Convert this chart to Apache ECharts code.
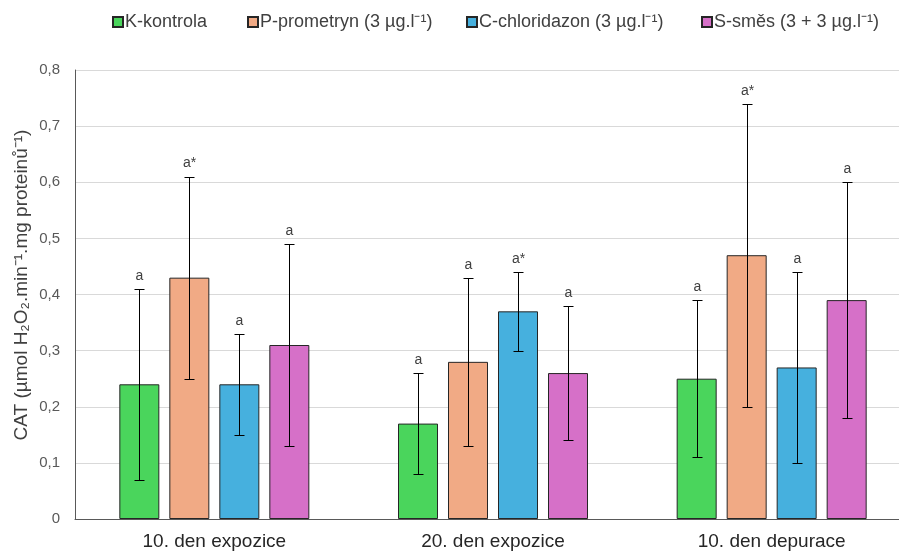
<!DOCTYPE html>
<html>
<head>
<meta charset="utf-8">
<script src="https://cdn.jsdelivr.net/npm/echarts@6/dist/echarts.min.js"></script>
<style>html,body{margin:0;padding:0;background:#fff;overflow:hidden;}#c{width:911px;height:551px;}</style>
</head>
<body>
<div id="c"></div>
<script>
const categories = ['10. den expozice', '20. den expozice', '10. den depurace'];
const seriesNames = ['K-kontrola', 'P-prometryn (3 µg.l⁻¹)', 'C-chloridazon (3 µg.l⁻¹)', 'S-směs (3 + 3 µg.l⁻¹)'];
const kMeans = [0.24, 0.17, 0.25];
const pMeans = [0.43, 0.28, 0.47];
const cMeans = [0.24, 0.37, 0.27];
const sMeans = [0.31, 0.26, 0.39];
const kErr = [0.17, 0.09, 0.14];
const pErr = [0.18, 0.15, 0.27];
const cErr = [0.09, 0.07, 0.17];
const sErr = [0.18, 0.12, 0.21];
const kSig = ['a', 'a', 'a'];
const pSig = ['a*', 'a', 'a*'];
const cSig = ['a', 'a*', 'a'];
const sSig = ['a', 'a', 'a'];
const yTicks = [0, 0.1, 0.2, 0.3, 0.4, 0.5, 0.6, 0.7, 0.8];
const yTitle = 'CAT (µmol H₂O₂.min⁻¹.mg proteinů⁻¹)';
const colors = ['#4ad55c', '#f1aa85', '#46b0de', '#d670c8'];

const means = [kMeans, pMeans, cMeans, sMeans];
const errs = [kErr, pErr, cErr, sErr];
const sigs = [kSig, pSig, cSig, sSig];

const FONT = '"Liberation Sans", Arial, sans-serif';
const BAR_W = 40, GAP = 10;
const n = means.length;
const offsets = means.map((_, i) => (i - (n - 1) / 2) * (BAR_W + GAP));
const legendLeft = [112, 247, 466, 701];

const series = [];
means.forEach((m, i) => {
  series.push({
    name: seriesNames[i],
    type: 'bar',
    data: m,
    barWidth: BAR_W,
    barGap: (GAP / BAR_W * 100) + '%',
    itemStyle: { color: colors[i], borderColor: '#262626', borderWidth: 1 }
  });
});
means.forEach((m, i) => {
  series.push({
    type: 'custom',
    name: 'err' + i,
    z: 10,
    silent: true,
    data: m.map((v, j) => [j, v - errs[i][j], v + errs[i][j]]),
    renderItem: function (params, api) {
      const lo = api.coord([api.value(0), api.value(1)]);
      const hi = api.coord([api.value(0), api.value(2)]);
      const x = Math.round(lo[0] + offsets[i]) + 0.5;
      const cw = 5;
      const st = { stroke: '#000', lineWidth: 1 };
      const yh = Math.round(hi[1]) + 0.5, yl = Math.round(lo[1]) + 0.5;
      return {
        type: 'group',
        children: [
          { type: 'line', shape: { x1: x, y1: yl, x2: x, y2: yh }, style: st },
          { type: 'line', shape: { x1: x - cw, y1: yh, x2: x + cw, y2: yh }, style: st },
          { type: 'line', shape: { x1: x - cw, y1: yl, x2: x + cw, y2: yl }, style: st },
          { type: 'text', style: { text: sigs[i][params.dataIndex], x: x, y: hi[1] - 6, align: 'center', verticalAlign: 'bottom', fill: '#404040', font: '14px ' + FONT } }
        ]
      };
    }
  });
});

const legends = seriesNames.map((name, i) => ({
  data: [name],
  top: 13,
  left: legendLeft[i],
  padding: 0,
  icon: 'rect',
  itemWidth: 10,
  itemHeight: 10,
  textStyle: { fontSize: 18, color: '#404040', fontFamily: FONT, padding: [0, 0, 0, -3] }
}));

const chart = echarts.init(document.getElementById('c'), null, { renderer: 'canvas' });
chart.setOption({
  animation: false,
  textStyle: { fontFamily: FONT },
  color: colors,
  legend: legends,
  graphic: [{
    type: 'text',
    x: 22, y: 285,
    rotation: Math.PI / 2,
    style: { text: yTitle, font: '19px ' + FONT, fill: '#404040', align: 'center', verticalAlign: 'middle' }
  }],
  grid: { left: 75, top: 70, bottom: 32, right: 0, containLabel: false },
  xAxis: {
    type: 'category',
    data: categories,
    axisTick: { show: false },
    axisLine: { lineStyle: { color: '#595959', width: 1 } },
    axisLabel: { fontSize: 19, color: '#262626', margin: 13 }
  },
  yAxis: {
    type: 'value',
    min: yTicks[0],
    max: yTicks[yTicks.length - 1],
    interval: yTicks[1] - yTicks[0],
    axisLine: { show: true, lineStyle: { color: '#595959', width: 1 } },
    axisTick: { show: false },
    splitLine: { lineStyle: { color: '#d9d9d9', width: 1 } },
    axisLabel: {
      fontSize: 15, color: '#595959', margin: 15,
      formatter: v => String(Math.round(v * 10) / 10).replace('.', ',')
    }
  },
  series: series
});
</script>
</body>
</html>
